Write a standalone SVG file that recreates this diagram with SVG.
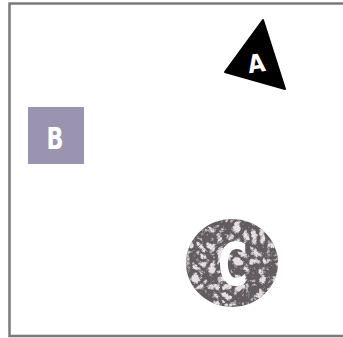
<svg xmlns="http://www.w3.org/2000/svg" width="343" height="338" viewBox="0 0 343 338">
<style>
.lbl{font-family:"DejaVu Sans","Liberation Sans",sans-serif;font-weight:bold;fill:#fff;text-anchor:middle}
</style>
<defs>
<filter id="tex" x="0" y="0" width="100%" height="100%">
<feTurbulence type="turbulence" baseFrequency="0.12" numOctaves="3" seed="5" result="n"/>
<feColorMatrix in="n" type="matrix" values="0 0 0 0 0.78  0 0 0 0 0.75  0 0 0 0 0.77  4 0 0 0 -1.0" result="c"/>
<feComposite in="c" in2="SourceGraphic" operator="in"/>
</filter>
</defs>
<rect width="343" height="338" fill="#fff"/>
<g id="frame" fill="none" stroke="#7a7a7a" stroke-width="2.5">
<path d="M343 3.5 H9.5 V336 H343"/>
</g>
<g id="connectors"></g>
<g id="nodeA">
<polygon points="263,20 225,72 285,89" fill="#000" stroke="#000" stroke-width="2" stroke-linejoin="round"/>
<text class="lbl" style="font-size:25px" transform="translate(257.5 72) rotate(-8) scale(0.9 1)">A</text>
</g>
<g id="nodeB">
<rect x="28" y="107" width="56" height="57" fill="#9a94b0"/>
<text class="lbl" style="font-size:31px" transform="translate(55 149) scale(0.72 1)">B</text>
</g>
<g id="nodeC">
<ellipse cx="232" cy="263" rx="46" ry="44" fill="#625c60"/>
<ellipse cx="232" cy="263" rx="46" ry="44" fill="#fff" filter="url(#tex)"/>
<text class="lbl" style="font-size:58px" transform="translate(233 285) scale(0.7 1)">C</text>
</g>
</svg>
